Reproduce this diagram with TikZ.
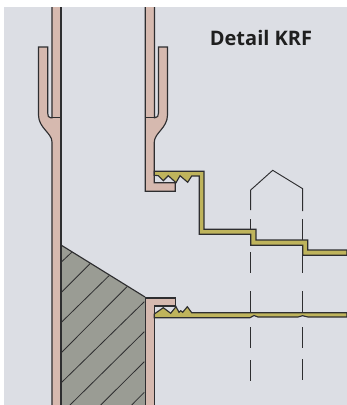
\documentclass[tikz,border=0pt]{standalone}
\usepackage{fontspec}
\setmainfont{Open Sans}
\definecolor{bgc}{HTML}{DCDEE4}
\definecolor{pinkc}{HTML}{D6B9AF}
\definecolor{yelc}{HTML}{BFB45C}
\definecolor{hatchc}{HTML}{9A9C94}
\definecolor{linec}{HTML}{2E2E30}
\tikzset{
  outl/.style={draw=linec,line width=0.85pt,line join=miter},
  pipe/.style={outl,fill=pinkc},
  seal/.style={outl,fill=yelc},
  hatchln/.style={draw=linec,line width=0.6pt},
  dashln/.style={draw=linec,line width=0.7pt},
}
\begin{document}
\begin{tikzpicture}[x=0.75pt,y=-0.75pt]
\useasboundingbox (0,0) rectangle (347,405);
\fill[white] (0,0) rectangle (347,405);
\fill[bgc] (4,7) rectangle (347,405);
% hatched block
\fill[hatchc] (61,245) -- (145,297) -- (145,405) -- (61,405) -- cycle;
\draw[outl] (61,245) -- (145,297);
\foreach \a/\b/\c/\d in {61.7/261.7/71.7/252.3,61.7/292/90.7/263,61.7/322/109/275.7,61.7/352.3/127/286.7,61.7/382.3/144.3/301.7,70/405/144.3/331.7,100.7/405/144.3/361.7,131.7/405/144.3/392.3}
  \draw[hatchln] (\a,\b) -- (\c,\d);
% left pipe and socket
\fill[pinkc] (52,7) -- (61,7) -- (61,405) -- (52,405) -- (52,142) .. controls (52,133) and (38.5,128) .. (38.5,115) -- (38.5,47) -- (47.7,47) -- (47.7,113) .. controls (47.7,116) and (48.5,117.7) .. (51,117.7) -- (52,117.7) -- cycle;
\draw[outl] (52,7) -- (52,117.7) -- (50.5,117.7) .. controls (48.5,117.7) and (47.7,116) .. (47.7,113) -- (47.7,47) -- (38.5,47) -- (38.5,115) .. controls (38.5,128) and (52,133) .. (52,142) -- (52,405);
\draw[outl] (61,7) -- (61,405);
\draw[outl] (52,117.7) -- (61,117.7);
% right pipe, socket and upper shoulder
\fill[pinkc] (145.3,7) -- (154.5,7) -- (154.5,117.7) -- (155,117.7) .. controls (157.5,117.7) and (158.5,116) .. (158.5,113) -- (158.5,47) -- (167.5,47) -- (167.5,115) .. controls (167.5,128) and (154.3,133) .. (154.3,142) -- (154.3,182.7) -- (175.3,182.7) -- (175.3,191.3) -- (145.3,191.3) -- cycle;
\draw[outl] (145.3,7) -- (145.3,191.3) -- (175.3,191.3) -- (175.3,182.7) -- (154.3,182.7) -- (154.3,142) .. controls (154.3,133) and (167.5,128) .. (167.5,115) -- (167.5,47) -- (158.5,47) -- (158.5,113) .. controls (158.5,116) and (157.5,117.7) .. (155,117.7) -- (154.5,117.7) -- (154.5,7);
\draw[outl] (145.3,117.7) -- (154.5,117.7);
% white pocket upper
\fill[bgc] (154.8,171) rectangle (175.3,182.3);
% dashed guides
\draw[dashln] (250.7,210) -- (250.7,190) -- (272.7,170.3) -- (302.7,188.7) -- (302.7,211);
\foreach \a/\b/\c in {250.7/219/230,302.7/219/240,250.7/252/273,302.7/255/273,250.7/291/312,302.7/291/312,250.7/327/348,302.7/327/348,250.7/360/381,302.7/359/380}
  \draw[dashln] (\a,\b) -- (\a,\c);
% upper seal strip
\draw[seal] (154.3,171.3) -- (204,171.3) -- (204,229.3) -- (256,229.3) -- (256,240) -- (307.7,240) -- (307.7,250) -- (347,250) -- (347,255.3) -- (302.7,255.3) -- (302.7,245.3) -- (250.7,245.3) -- (250.7,234.3) -- (199.3,234.3) -- (199.3,176) -- (191.7,176) -- (187.7,182.3) -- (180,175.7) -- (176,182.7) -- (168.3,175.7) -- (163.3,180.7) -- (158.3,175.7) -- (154.3,175.3) -- cycle;
% lower pipe stub
\fill[pinkc] (145.3,298) -- (175.3,298) -- (175.3,306) -- (154.3,306) -- (154.3,405) -- (145.3,405) -- cycle;
\draw[outl] (145.3,405) -- (145.3,298) -- (175.3,298) -- (175.3,306) -- (154.3,306) -- (154.3,405);
\draw[draw=linec,line width=1pt] (145.3,298) -- (145.3,405);
\draw[draw=linec,line width=1pt] (61,245) -- (61,405);
% white pocket lower
\fill[bgc] (154.8,306.5) rectangle (175,314);
% lower seal strip
\draw[seal] (154.3,314) -- (163.3,307.7) -- (170.7,313.3) -- (176,306.7) -- (179,312.3) -- (180.7,310.7) -- (182.7,312.3) -- (187.3,306.7) -- (191.7,312.7) -- (347,312.7) -- (347,317) -- (308,317) -- (302.5,315.7) -- (298,317) -- (258,317) -- (254,315.5) -- (250,317.7) -- (154.3,317.7) -- cycle;
% label
\node[font=\bfseries\fontsize{15}{17}\selectfont,text=black!88,inner sep=0pt,anchor=center] (lbl) at (261,38) {Detail KRF};
\end{tikzpicture}
\end{document}
